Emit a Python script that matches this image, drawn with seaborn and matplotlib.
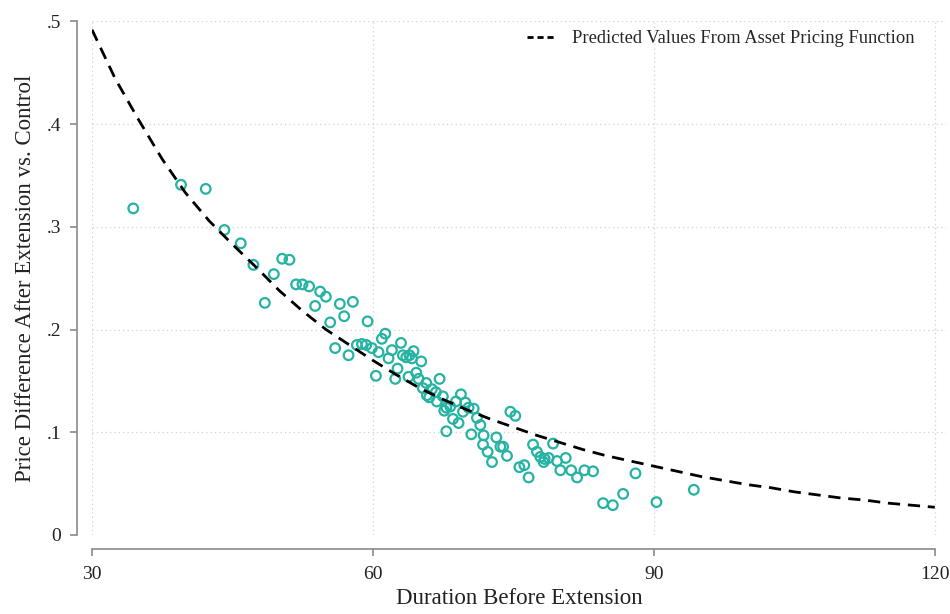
import numpy as np
import pandas as pd
import matplotlib
matplotlib.use("Agg")
import matplotlib.pyplot as plt
import seaborn as sns

sns.set_style("white")
plt.rcParams['font.family'] = ['Liberation Serif', 'DejaVu Serif']

# observed points: duration before extension vs price difference
duration = [
    34.41, 39.51, 42.15, 44.14, 45.89, 47.24, 49.42, 48.46, 50.31, 51.09,
    51.80, 52.48, 53.19, 54.37, 54.98, 53.83, 56.47, 57.86, 56.93, 55.44,
    59.43, 55.97, 57.40, 58.29, 58.83, 59.29, 59.89, 60.60, 60.32, 60.96,
    61.32, 61.67, 62.03, 62.63, 62.39, 63.00, 63.20, 63.56, 63.91, 64.34,
    64.17, 65.16, 63.81, 64.63, 64.88, 65.70, 65.34, 66.30, 66.73, 65.77,
    66.02, 67.12, 67.47, 66.83, 67.84, 67.62, 69.40, 68.87, 68.26, 69.87,
    70.22, 69.62, 70.76, 68.55, 69.15, 67.84, 71.11, 71.47, 70.51, 71.82,
    71.76, 72.25, 72.72, 73.18, 73.61, 73.90, 74.32, 74.68, 75.21, 75.64,
    76.17, 76.63, 77.10, 77.52, 77.88, 78.34, 78.77, 79.24, 78.23, 79.66,
    80.02, 80.59, 81.17, 81.80, 82.59, 83.51, 84.58, 85.62, 86.72, 88.04,
    90.28, 94.27,
]
price_diff = [
    0.318, 0.341, 0.337, 0.297, 0.284, 0.263, 0.254, 0.226, 0.269, 0.268,
    0.244, 0.244, 0.242, 0.237, 0.232, 0.223, 0.225, 0.227, 0.213, 0.207,
    0.208, 0.182, 0.175, 0.185, 0.186, 0.185, 0.182, 0.178, 0.155, 0.191,
    0.196, 0.172, 0.180, 0.162, 0.152, 0.187, 0.175, 0.173, 0.175, 0.179,
    0.172, 0.169, 0.154, 0.158, 0.152, 0.148, 0.143, 0.142, 0.139, 0.136,
    0.134, 0.152, 0.135, 0.130, 0.124, 0.121, 0.137, 0.130, 0.125, 0.129,
    0.124, 0.120, 0.123, 0.113, 0.109, 0.101, 0.114, 0.107, 0.098, 0.097,
    0.088, 0.081, 0.071, 0.095, 0.086, 0.086, 0.077, 0.120, 0.116, 0.066,
    0.068, 0.056, 0.088, 0.081, 0.076, 0.074, 0.075, 0.089, 0.071, 0.072,
    0.063, 0.075, 0.063, 0.056, 0.063, 0.062, 0.031, 0.029, 0.040, 0.060,
    0.032, 0.044,
]

# predicted values from asset pricing function
pred_duration = [
    30, 32.5, 35, 37.5, 40, 42.5, 45, 47.5, 50, 52.5, 55, 57.5, 60, 62.5,
    65, 67.5, 70, 72.5, 75, 77.5, 80, 82.5, 85, 87.5, 90, 92.5, 95, 97.5,
    100, 102.5, 105, 107.5, 110, 112.5, 115, 117.5, 120,
]
pred_value = [
    0.492, 0.444, 0.404, 0.366, 0.333, 0.306, 0.283, 0.261, 0.238, 0.218,
    0.200, 0.185, 0.170, 0.156, 0.143, 0.132, 0.122, 0.113, 0.105, 0.097,
    0.090, 0.083, 0.077, 0.072, 0.067, 0.062, 0.057, 0.053, 0.049, 0.046,
    0.042, 0.039, 0.036, 0.034, 0.031, 0.029, 0.027,
]

x_ticks = [30, 60, 90, 120]
y_ticks = [0, 0.1, 0.2, 0.3, 0.4, 0.5]
y_tick_labels = ["0", ".1", ".2", ".3", ".4", ".5"]

pts = pd.DataFrame({"duration": duration, "price_diff": price_diff})
pred = pd.DataFrame({"duration": pred_duration, "value": pred_value})

fig = plt.figure(figsize=(9.5, 6.14), dpi=100)
ax = fig.add_axes([0.0968, 0.1287, 0.899, 0.8363])

sns.scatterplot(data=pts, x="duration", y="price_diff", ax=ax,
                marker="o", s=48, facecolors="none", edgecolor="#26b3a3",
                linewidth=1.6, legend=False, zorder=3)
sns.lineplot(data=pred, x="duration", y="value", ax=ax, color="black",
             linewidth=2.0, dashes=False, zorder=4,
             label="Predicted Values From Asset Pricing Function")
ax.lines[-1].set_dashes((4.4, 2.8))

ax.set_xlim(30, 121.2)
ax.set_ylim(0, 0.5)
ax.set_xticks(x_ticks)
ax.set_xticklabels([str(t) for t in x_ticks])
ax.set_yticks(y_ticks)
ax.set_yticklabels(y_tick_labels)

ax.grid(True, linestyle=(0, (1, 2.5)), color="#d0d0d0", linewidth=0.9)
ax.set_axisbelow(True)

sns.despine(ax=ax, offset={"left": 11, "bottom": 10})
ax.spines["left"].set_bounds(0, 0.5)
ax.spines["bottom"].set_bounds(30, 120)
for side in ("left", "bottom"):
    ax.spines[side].set_color("#8a8a8a")
    ax.spines[side].set_linewidth(1.2)
ax.tick_params(axis="both", which="major", direction="out", length=5,
               width=1.2, color="#8a8a8a", labelsize=14, labelcolor="#222222",
               left=True, bottom=True)
ax.tick_params(axis="y", pad=6)
ax.tick_params(axis="x", pad=7)

ax.set_xlabel("Duration Before Extension", fontsize=16.5, color="#222222",
              labelpad=4)
ax.set_ylabel("Price Difference After Extension vs. Control", fontsize=16.5,
              color="#222222", labelpad=8)

leg = ax.legend(loc="upper right", frameon=False, fontsize=13.3,
                handlelength=1.6, borderaxespad=0.3,
                bbox_to_anchor=(0.978, 1.008))
for line in leg.get_lines():
    line.set_dashes((2.2, 1.4))

fig.savefig("out.png", dpi=100)
